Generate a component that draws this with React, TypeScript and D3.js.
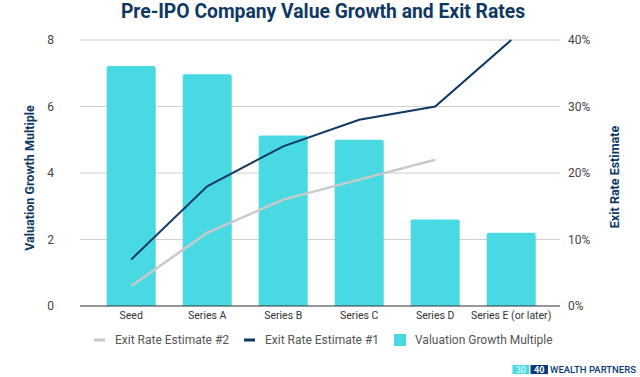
import React from "react";
import * as d3 from "d3";

const categories = ["Seed", "Series A", "Series B", "Series C", "Series D", "Series E (or later)"];
const valuationMultiple = [7.22, 6.97, 5.13, 5.0, 2.6, 2.2];
const exitRate1 = [0.07, 0.18, 0.24, 0.28, 0.30, 0.40];
const exitRate2 = [0.03, 0.11, 0.16, 0.19, 0.22];
const leftTicks = [0, 2, 4, 6, 8];
const rightTicks = [0, 0.1, 0.2, 0.3, 0.4];

const W = 640, H = 377;
const plotL = 80, plotR = 560, plotT = 40, plotB = 306;
const NAVY = "#0f3963";
const CYAN = "#48d9e3";
const GRAY = "#c9c9c9";
const FONT = "Roboto, 'Noto Sans', sans-serif";

export default function App() {
  const x = d3.scaleBand<string>().domain(categories).range([93.2, 549.2]).paddingInner(0.355).paddingOuter(0.1775);
  const yL = d3.scaleLinear().domain([0, 8]).range([plotB, plotT]);
  const yR = d3.scaleLinear().domain([0, 0.4]).range([plotB, plotT]);
  const cx = (c: string) => (x(c) as number) + x.bandwidth() / 2;

  const line1 = d3.line<number>().x((_, i) => cx(categories[i])).y((d) => yR(d))(exitRate1) as string;
  const line2 = d3.line<number>().x((_, i) => cx(categories[i])).y((d) => yR(d))(exitRate2) as string;

  const barPath = (c: string, v: number) => {
    const x0 = x(c) as number, w = x.bandwidth(), y0 = yL(v), r = 2;
    return `M${x0},${plotB}V${y0 + r}Q${x0},${y0} ${x0 + r},${y0}H${x0 + w - r}Q${x0 + w},${y0} ${x0 + w},${y0 + r}V${plotB}Z`;
  };

  return (
    <svg width={W} height={H} style={{ position: "absolute", left: 0, top: 0 }} fontFamily={FONT}>
      <rect width={W} height={H} fill="#fff" />
      <text x={323} y={17.5} textAnchor="middle" fontSize={19.3} fontWeight={700} fill={NAVY}>
        Pre-IPO Company Value Growth and Exit Rates
      </text>
      {leftTicks.map((t) => (
        <g key={"g" + t}>
          {t !== 0 && <line x1={plotL} x2={plotR} y1={yL(t)} y2={yL(t)} stroke="#cfcfcf" strokeWidth={1} />}
          <text x={54} y={yL(t)} dy="0.35em" textAnchor="end" fontSize={12} fill="#444">{t}</text>
        </g>
      ))}
      {rightTicks.map((t) => (
        <text key={"r" + t} x={568} y={yR(t)} dy="0.35em" textAnchor="start" fontSize={12} fill="#444">
          {d3.format(".0%")(t)}
        </text>
      ))}
      {categories.map((c, i) => (
        <path key={c} d={barPath(c, valuationMultiple[i])} fill={CYAN} />
      ))}
      <line x1={plotL} x2={plotR} y1={plotB} y2={plotB} stroke="#333" strokeWidth={1.2} />
      <path d={line2} fill="none" stroke={GRAY} strokeWidth={2.5} />
      <path d={line1} fill="none" stroke={NAVY} strokeWidth={2} />
      {categories.map((c) => (
        <text key={"x" + c} x={cx(c)} y={319} textAnchor="middle" fontSize={10.5} fill="#333">{c}</text>
      ))}
      <text transform={`translate(34,178) rotate(-90)`} textAnchor="middle" fontSize={12.5} fontWeight={700} fill={NAVY}>
        Valuation Growth Multiple
      </text>
      <text transform={`translate(619,177) rotate(-90)`} textAnchor="middle" fontSize={12.5} fontWeight={700} fill={NAVY}>
        Exit Rate Estimate
      </text>
      {/* legend */}
      <g fontSize={12} fill="#555">
        <line x1={94} x2={105} y1={340} y2={340} stroke={GRAY} strokeWidth={3} />
        <text x={115} y={340} dy="0.35em">Exit Rate Estimate #2</text>
        <line x1={244} x2={255} y1={340} y2={340} stroke={NAVY} strokeWidth={3} />
        <text x={265} y={340} dy="0.35em">Exit Rate Estimate #1</text>
        <rect x={394} y={334} width={12} height={12} fill={CYAN} />
        <text x={415} y={340} dy="0.35em">Valuation Growth Multiple</text>
      </g>
      {/* logo */}
      <g fontSize={9}>
        <rect x={512.5} y={365} width={16.5} height={9} fill={CYAN} />
        <text x={520.7} y={372.7} textAnchor="middle" fill="#fff">30</text>
        <rect x={530.5} y={365} width={17.5} height={9} fill="#0b3a7a" />
        <text x={539.2} y={372.7} textAnchor="middle" fill="#fff" fontWeight={700}>40</text>
        <text x={550} y={372.7} fill="#0b3a7a" fontWeight={500} textLength={86} lengthAdjust="spacingAndGlyphs">WEALTH PARTNERS</text>
      </g>
    </svg>
  );
}
